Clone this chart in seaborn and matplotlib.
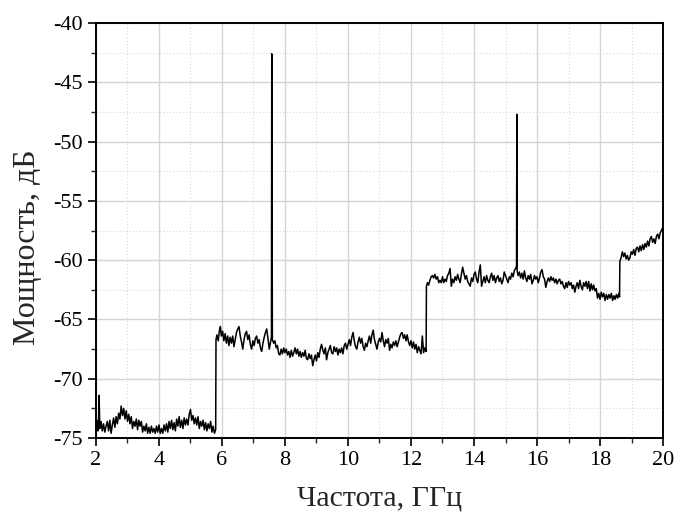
import matplotlib
matplotlib.use("Agg")
import matplotlib.pyplot as plt
from matplotlib.ticker import MultipleLocator
import seaborn as sns
import pandas as pd

# участок 2 - 5.8 ГГц
freq_1 = [2.00, 2.03, 2.06, 2.08, 2.10, 2.12, 2.16, 2.20, 2.24, 2.28, 2.32, 2.36, 2.40,
          2.44, 2.48, 2.52, 2.56, 2.60, 2.64, 2.68, 2.72, 2.76, 2.80, 2.84, 2.88, 2.92,
          2.96, 3.00, 3.04, 3.08, 3.12, 3.16, 3.20, 3.24, 3.28, 3.32, 3.36, 3.40, 3.44,
          3.48, 3.52, 3.56, 3.60, 3.64, 3.68, 3.72, 3.76, 3.80, 3.84, 3.88, 3.92, 3.96,
          4.00, 4.04, 4.08, 4.12, 4.16, 4.20, 4.24, 4.28, 4.32, 4.36, 4.40, 4.44, 4.48,
          4.52, 4.56, 4.60, 4.64, 4.68, 4.72, 4.76, 4.80, 4.84, 4.88, 4.92, 4.96, 5.00,
          5.04, 5.08, 5.12, 5.16, 5.20, 5.24, 5.28, 5.32, 5.36, 5.40, 5.44, 5.48, 5.52,
          5.56, 5.60, 5.64, 5.68, 5.72, 5.76, 5.80]
power_1 = [-74.3, -73.5, -74.4, -73.9, -71.4, -74.2, -73.6, -74.4, -73.8, -74.5, -74.0, -73.6, -74.4,
           -73.5, -74.6, -73.9, -73.3, -74.1, -73.2, -73.8, -72.9, -73.4, -72.3, -73.1, -72.5, -73.4,
           -72.7, -73.6, -73.0, -73.8, -73.2, -74.2, -73.6, -74.0, -73.4, -74.3, -73.5, -74.0, -73.6,
           -74.5, -74.0, -74.4, -73.8, -74.6, -74.1, -74.6, -74.0, -74.5, -74.2, -74.6, -74.0, -74.5,
           -73.9, -74.6, -74.2, -74.6, -73.9, -74.4, -73.8, -74.5, -73.6, -74.2, -73.5, -74.3, -73.7,
           -74.4, -73.4, -74.0, -73.2, -74.1, -73.5, -74.2, -73.3, -73.9, -73.4, -73.9, -73.0, -72.6,
           -73.5, -73.1, -73.8, -73.3, -73.9, -73.2, -74.2, -73.6, -74.0, -73.5, -74.3, -73.7, -74.4,
           -73.8, -74.2, -73.6, -74.5, -74.0, -74.6, -74.3]

# участок 5.8 - 7.6 ГГц (с пиком на 7.58 ГГц)
freq_2 = [5.81, 5.84, 5.88, 5.92, 5.95, 5.98, 6.02, 6.06, 6.10, 6.14, 6.18, 6.22, 6.26,
          6.30, 6.34, 6.38, 6.42, 6.46, 6.50, 6.54, 6.58, 6.62, 6.66, 6.70, 6.74, 6.78,
          6.82, 6.86, 6.90, 6.94, 6.98, 7.02, 7.06, 7.10, 7.14, 7.18, 7.22, 7.26, 7.30,
          7.34, 7.38, 7.42, 7.46, 7.50, 7.54, 7.57, 7.58, 7.60]
power_2 = [-66.7, -66.3, -66.8, -65.9, -65.6, -66.4, -66.0, -66.8, -66.2, -67.0, -66.4, -67.2, -66.5,
           -67.0, -66.4, -67.3, -66.7, -66.1, -65.8, -65.6, -66.4, -66.9, -67.5, -66.7, -66.2, -66.0,
           -66.7, -66.3, -67.1, -67.5, -66.8, -67.2, -66.6, -66.4, -67.0, -66.7, -67.4, -67.7, -67.0,
           -66.5, -66.1, -65.8, -66.6, -67.5, -66.9, -66.5, -42.6, -66.7]

# участок 7.6 - 12.5 ГГц
freq_3 = [7.64, 7.68, 7.72, 7.76, 7.80, 7.84, 7.88, 7.92, 7.96, 8.00, 8.04, 8.08, 8.12,
          8.16, 8.20, 8.24, 8.28, 8.32, 8.36, 8.40, 8.44, 8.48, 8.52, 8.56, 8.60, 8.64,
          8.68, 8.72, 8.76, 8.80, 8.84, 8.88, 8.92, 8.96, 9.00, 9.04, 9.08, 9.12, 9.16,
          9.20, 9.24, 9.28, 9.32, 9.36, 9.40, 9.44, 9.48, 9.52, 9.56, 9.60, 9.64, 9.68,
          9.72, 9.76, 9.80, 9.84, 9.88, 9.92, 9.96, 10.00, 10.04, 10.08, 10.12, 10.16,
          10.20, 10.24, 10.28, 10.32, 10.36, 10.40, 10.44, 10.48, 10.52, 10.56, 10.60,
          10.64, 10.68, 10.72, 10.76, 10.80, 10.84, 10.88, 10.92, 10.96, 11.00, 11.04,
          11.08, 11.12, 11.16, 11.20, 11.24, 11.28, 11.32, 11.36, 11.40, 11.44, 11.48,
          11.52, 11.56, 11.60, 11.64, 11.68, 11.72, 11.76, 11.80, 11.84, 11.88, 11.92,
          11.96, 12.00, 12.04, 12.08, 12.12, 12.16, 12.20, 12.24, 12.28, 12.32, 12.36,
          12.40, 12.44, 12.48]
power_3 = [-67.0, -66.8, -67.4, -67.2, -67.9, -68.0, -67.5, -67.9, -67.4, -67.8, -67.5, -68.0, -67.7,
           -68.2, -67.6, -68.1, -67.8, -67.4, -67.9, -67.5, -68.1, -67.7, -68.2, -67.8, -68.1, -67.6,
           -68.3, -68.4, -67.9, -68.3, -68.0, -68.9, -68.4, -68.0, -68.5, -67.8, -68.2, -67.5, -67.1,
           -67.6, -67.9, -67.4, -68.4, -67.8, -67.5, -67.2, -67.8, -67.9, -67.3, -67.7, -67.4, -68.0,
           -67.5, -67.8, -67.4, -67.9, -67.2, -67.0, -67.5, -67.1, -66.7, -67.2, -66.5, -66.1,
           -66.8, -67.3, -67.5, -66.9, -66.5, -67.0, -66.6, -67.3, -67.6, -67.0, -67.3,
           -66.8, -66.4, -67.0, -66.3, -65.9, -66.7, -67.1, -67.5, -66.9, -66.6, -66.9,
           -66.1, -66.8, -67.3, -66.7, -67.0, -66.6, -67.6, -67.1, -67.4, -66.9, -67.2,
           -66.8, -67.3, -66.9, -66.5, -66.2, -66.1, -66.6, -66.3, -66.8, -66.3, -66.9,
           -67.2, -66.8, -67.4, -66.9, -67.5, -67.1, -67.8, -67.3, -67.6, -67.9, -66.4,
           -67.8, -67.4, -67.7]

# участок 12.5 - 15.4 ГГц (с пиком на 15.36 ГГц)
freq_4 = [12.49, 12.52, 12.56, 12.60, 12.64, 12.68, 12.72, 12.76, 12.80, 12.84, 12.88,
          12.92, 12.96, 13.00, 13.04, 13.08, 13.12, 13.16, 13.20, 13.24, 13.28, 13.32,
          13.36, 13.40, 13.44, 13.48, 13.52, 13.56, 13.60, 13.64, 13.68, 13.72, 13.76,
          13.80, 13.84, 13.88, 13.92, 13.96, 14.00, 14.04, 14.08, 14.12, 14.16, 14.20,
          14.24, 14.28, 14.32, 14.36, 14.40, 14.44, 14.48, 14.52, 14.56, 14.60, 14.64,
          14.68, 14.72, 14.76, 14.80, 14.84, 14.88, 14.92, 14.96, 15.00, 15.04, 15.08,
          15.12, 15.16, 15.20, 15.24, 15.28, 15.32, 15.35, 15.36, 15.37]
power_4 = [-62.2, -61.9, -62.1, -61.7, -61.4, -61.3, -61.5, -61.2, -61.6, -61.4, -61.9,
           -61.7, -61.9, -61.4, -61.9, -61.6, -61.8, -61.3, -61.1, -60.7, -62.2, -61.6,
           -61.9, -61.4, -61.7, -61.2, -61.6, -61.9, -61.2, -60.6, -61.1, -61.6, -61.3,
           -61.8, -62.0, -62.2, -61.5, -61.8, -61.2, -61.0, -61.6, -61.9, -61.0, -60.4,
           -62.2, -61.8, -61.4, -61.9, -61.3, -61.7, -61.9, -61.4, -61.1, -61.7, -61.3,
           -61.9, -61.5, -61.3, -61.8, -61.5, -62.0, -61.7, -61.0, -61.3, -61.6, -61.9,
           -61.4, -61.6, -61.1, -61.4, -60.9, -60.7, -60.5, -47.7, -60.9]

# участок 15.4 - 18.6 ГГц
freq_5 = [15.40, 15.44, 15.48, 15.52, 15.56, 15.60, 15.64, 15.68, 15.72, 15.76, 15.80,
          15.84, 15.88, 15.92, 15.96, 16.00, 16.04, 16.08, 16.12, 16.16, 16.20, 16.24,
          16.28, 16.32, 16.36, 16.40, 16.44, 16.48, 16.52, 16.56, 16.60, 16.64, 16.68,
          16.72, 16.76, 16.80, 16.84, 16.88, 16.92, 16.96, 17.00, 17.04, 17.08, 17.12,
          17.16, 17.20, 17.24, 17.28, 17.32, 17.36, 17.40, 17.44, 17.48, 17.52, 17.56,
          17.60, 17.64, 17.68, 17.72, 17.76, 17.80, 17.84, 17.88, 17.92, 17.96, 18.00,
          18.04, 18.08, 18.12, 18.16, 18.20, 18.24, 18.28, 18.32, 18.36, 18.40, 18.44,
          18.48, 18.52, 18.56, 18.60, 18.62]
power_5 = [-61.3, -61.0, -61.5, -61.1, -61.6, -60.9, -61.5, -61.8, -61.3, -61.6, -61.2,
           -62.0, -61.7, -61.3, -61.6, -61.4, -61.9, -61.5, -61.0, -60.8, -61.4, -61.6,
           -62.3, -61.8, -61.5, -61.8, -61.4, -61.7, -61.5, -61.9, -61.6, -62.0, -61.7,
           -61.6, -62.0, -61.8, -62.2, -62.4, -61.9, -62.3, -61.8, -62.1, -61.9, -62.4,
           -62.1, -62.7, -62.2, -61.9, -62.4, -61.7, -62.2, -62.5, -61.9, -62.2, -61.8,
           -62.4, -61.8, -62.6, -62.0, -62.5, -62.1, -62.6, -62.4, -63.2, -62.8, -63.3,
           -62.7, -63.1, -62.8, -63.4, -62.9, -63.3, -62.9, -63.2, -62.8, -63.4, -63.0,
           -63.3, -62.9, -63.2, -62.8, -63.1]

# участок 18.6 - 20 ГГц
freq_6 = [18.63, 18.67, 18.71, 18.75, 18.79, 18.83, 18.87, 18.91, 18.95, 18.99, 19.03,
          19.07, 19.11, 19.15, 19.19, 19.23, 19.27, 19.31, 19.35, 19.39, 19.43, 19.47,
          19.51, 19.55, 19.59, 19.63, 19.67, 19.71, 19.75, 19.79, 19.83, 19.87, 19.91,
          19.95, 19.98, 20.00]
power_6 = [-60.1, -59.8, -59.3, -59.7, -59.4, -59.9, -59.6, -60.0, -59.8, -59.3, -59.5,
           -59.1, -59.6, -59.0, -58.9, -59.3, -58.8, -59.2, -58.7, -59.1, -58.6, -58.9,
           -58.4, -58.8, -58.2, -58.0, -58.5, -58.2, -58.6, -58.0, -57.8, -58.2, -57.7,
           -57.5, -57.3, -57.5]

x_label = "Частота, ГГц"
y_label = "Мощность, дБ"

freq = freq_1 + freq_2 + freq_3 + freq_4 + freq_5 + freq_6
power = power_1 + power_2 + power_3 + power_4 + power_5 + power_6
df = pd.DataFrame({"freq": freq, "power": power})

sns.set_style("white")
plt.rcParams["font.family"] = ["Liberation Serif", "DejaVu Serif"]
plt.rcParams["axes.unicode_minus"] = False

fig = plt.figure(figsize=(6.74, 5.18), dpi=100)
ax = fig.add_axes([0.1424, 0.1544, 0.8413, 0.8012])

sns.lineplot(data=df, x="freq", y="power", ax=ax, color="black",
             linewidth=1.1, estimator=None, sort=False, zorder=3)

ax.set_xlim(2, 20)
ax.set_ylim(-75, -40)
ax.xaxis.set_major_locator(MultipleLocator(2))
ax.xaxis.set_minor_locator(MultipleLocator(1))
ax.yaxis.set_major_locator(MultipleLocator(5))
ax.yaxis.set_minor_locator(MultipleLocator(2.5))

ax.grid(which="major", color="#d4d4d4", linewidth=1.0, linestyle="-", zorder=0)
ax.grid(which="minor", color="#d8d8d8", linewidth=0.8, linestyle=(0, (1, 2)), zorder=0)
ax.set_axisbelow(True)

for s in ax.spines.values():
    s.set_color("black")
    s.set_linewidth(1.4)

ax.tick_params(which="major", direction="out", length=6, width=1.2,
               labelsize=16, bottom=True, left=True, top=False, right=False,
               colors="black")
ax.tick_params(which="minor", direction="out", length=3.5, width=1.0,
               bottom=True, left=True, top=False, right=False)

ax.set_xlabel(x_label, fontsize=21.5, labelpad=11)
ax.set_ylabel(y_label, fontsize=23)
ax.yaxis.set_label_coords(-0.096, 0.46)

fig.savefig("out.png", dpi=100)
